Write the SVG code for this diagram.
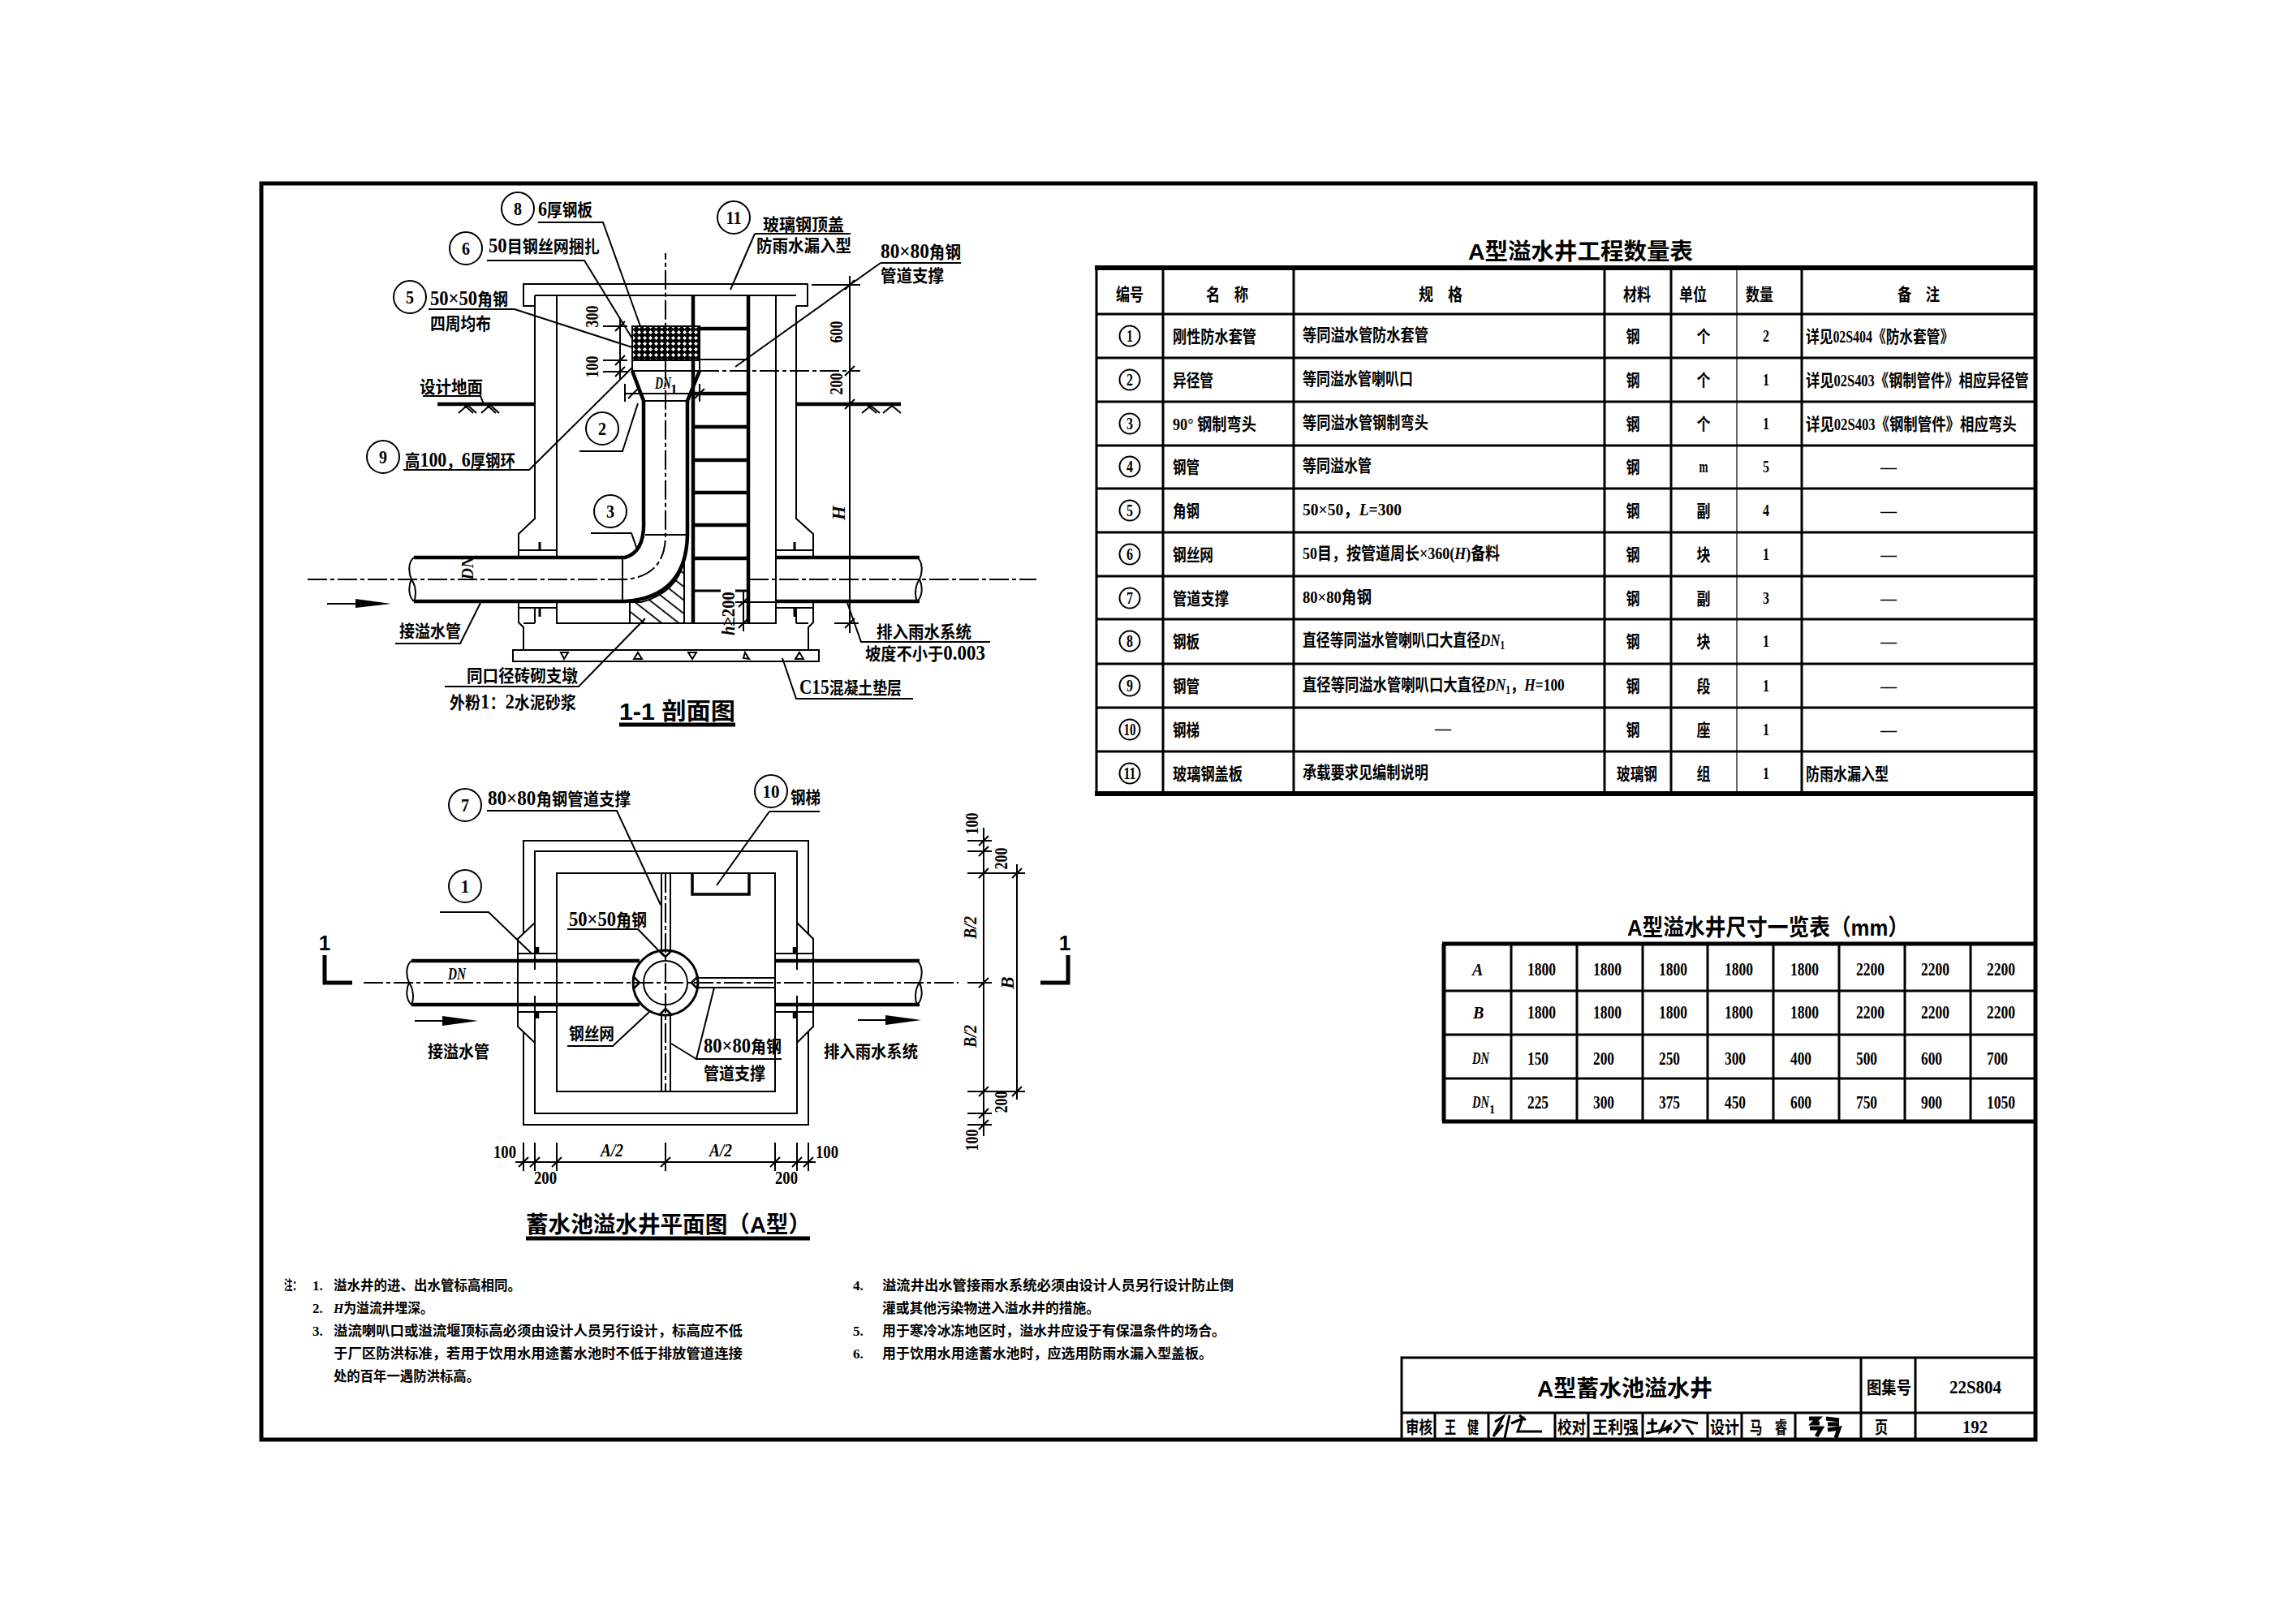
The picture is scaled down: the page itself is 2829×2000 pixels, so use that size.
<svg xmlns="http://www.w3.org/2000/svg" width="2829" height="2000" viewBox="0 0 2829 2000">
<style>
text{font-family:"Liberation Serif","Noto Sans CJK SC",sans-serif;font-weight:700;fill:#000}
.s{font-size:21px}.n{font-size:23px}.m{font-size:17px}.q{font-size:20px}.o{font-size:24px}
.g{font-size:25px}
.c{text-anchor:middle}
.i{font-style:italic}
.h{font-family:"Liberation Sans","Noto Sans CJK SC",sans-serif}
.l{fill:none;stroke:#000;stroke-width:2}
.t{fill:none;stroke:#000;stroke-width:4.5}
.f{fill:none;stroke:#000;stroke-width:1.2}
.d{fill:none;stroke:#000;stroke-width:2;stroke-dasharray:24 4 5 4}
</style>
<defs>
<pattern id="mesh" width="7" height="7" patternUnits="userSpaceOnUse">
<rect width="7" height="7" fill="#000"/>
<path d="M3.5,1 L6,3.5 L3.5,6 L1,3.5Z" fill="#fff"/>
</pattern>
<pattern id="hatch" width="13" height="13" patternUnits="userSpaceOnUse" patternTransform="rotate(-52)">
<rect x="0" y="0" width="1.8" height="13" fill="#000"/>
</pattern>
</defs>
<rect width="2829" height="2000" fill="#fff"/>
<rect id="frame" x="322" y="226" width="2186" height="1548" fill="none" stroke="#000" stroke-width="5"/>

<g id="section">
<path class="l" d="M659,377H645V350H995V377H981M659,364H981"/>
<path class="l" d="M659,364V639L639,658V687M639,741V767L645,773V801M686,364V687M686,741V768H956V364M981,377V639L1002,658V687M1002,741V767L996,773V801M639,678H686M956,678H1002M639,749H686M956,749H1002M659,749V768M645,768H659M981,749V768M981,768H996"/>
<path class="l" d="M632,801H1009V815H632Z"/>
<path class="t" d="M854,364V768M922,364V768"/>
<path class="t" d="M854,405H922M854,485H922M854,526H922M854,567H922M854,607H922M854,647H922M854,688H922"/>
<path class="l" d="M854,443H922M843,690V768"/>
<path class="t" style="stroke-width:3" d="M854,728H888M906,728H922"/>
<path class="t" style="stroke-width:3" d="M665,668V678M665,749V760M979,668V678M979,749V760"/>
<rect x="779" y="402" width="83" height="42" fill="url(#mesh)"/>
<path class="l" d="M779,402H862V457H779ZM779,444H862"/>
<path class="t" d="M779,457L793,494V640Q795,680 770,687H510M862,457L847,494V660Q845,736 770,741H510M956,687H1133M956,741H1133"/>
<path class="l" d="M793,494H847M795,659H849M767,687V741"/>
<path d="M776,742H790Q835,730 843,690V768H776Z" fill="url(#hatch)" stroke="#000" stroke-width="2"/>
<path class="l" d="M510,687C503,692 503,705 507,714C503,722 503,735 510,741M507,714C513,722 513,735 510,741M1130,687C1137,692 1137,705 1133,714C1137,722 1137,735 1130,741M1133,714C1127,722 1127,735 1130,741"/>
<path class="d" d="M379,714H770Q820,710 820,659V312M923,714H1277M862,457H1060"/>
<path class="t" d="M539,498H659M981,498H1110"/>
<path class="l" d="M565,509L576,499L587,509M572,499L583,509M593,509L604,499L615,509M600,499L611,509M1062,509L1073,500L1084,509M1069,500L1080,509M1088,509L1099,500L1110,509"/>
<path class="l" d="M691,804H700L695,812ZM786,804L791,812H781ZM848,804H858L853,812ZM918,804L923,812L916,811ZM985,804L990,812H980Z"/>
<path d="M403,743H438V738L482,744L438,749V745H403Z"/>
</g>

<g id="section-dims">
<path class="l" d="M764,392V467M743,402H773M743,444H773M743,458H773M758,408L770,396M758,450L770,438M758,464L770,452"/>
<path class="l" d="M771,485H880M770,473V495M862,473V495M774,491L786,479M856,491L868,479"/>
<path class="l" d="M1047,340V780M1000,351H1060M1041,357L1053,345M1041,463L1053,451M1041,504L1053,492M1028,768H1058M1041,774L1053,762"/>
<path class="l" d="M916,728V778M906,742H956M910,748L922,736M910,774L922,762M906,768H925"/>
<text class="n c" transform="translate(737,390) rotate(-90) scale(.78,1)">300</text>
<text class="n c" transform="translate(737,452) rotate(-90) scale(.78,1)">100</text>
<text class="n c" transform="translate(1038,409) rotate(-90) scale(.78,1)">600</text>
<text class="n c" transform="translate(1038,473) rotate(-90) scale(.78,1)">200</text>
<text class="n c i" transform="translate(1041,632) rotate(-90)">H</text>
<text class="n" transform="translate(905,783) rotate(-90) scale(.9,1)"><tspan class="i">h</tspan>≥200</text>
<text class="s i" x="807" y="479" textLength="20" lengthAdjust="spacingAndGlyphs">DN</text>
<text class="m" x="826" y="485">1</text>
<text class="q c i" transform="translate(583,700) rotate(-90)">DN</text>
</g>

<g id="section-labels">
<path class="l" d="M663,274H743L789,402M600,321H720L779,417M528,381H634L779,428M497,579H652L779,453M714,556H767L786,497M728,657H778L785,677M930,288H1048M930,288L900,357M1085,324H1184M1085,324L906,452M521,488H592L596,498M487,793H567L592,743M548,846H713L795,762M1220,791H1061L1044,743M1125,861H981L964,811"/>
<path class="t" style="stroke-width:5" d="M763,893H906"/>
<g id="c8"><circle class="l" cx="638" cy="257" r="20"/><text class="o c" x="638" y="265" textLength="10" lengthAdjust="spacingAndGlyphs">8</text></g>
<text class="s" transform="translate(663,266) scale(.887,1)"><tspan class="g">6</tspan>厚钢板</text>
<g id="c6"><circle class="l" cx="574" cy="306" r="20"/><text class="o c" x="574" y="314" textLength="10" lengthAdjust="spacingAndGlyphs">6</text></g>
<text class="s" transform="translate(602,311) scale(.907,1)"><tspan class="g">50</tspan>目钢丝网捆扎</text>
<g id="c5"><circle class="l" cx="505" cy="366" r="20"/><text class="o c" x="505" y="374" textLength="10" lengthAdjust="spacingAndGlyphs">5</text></g>
<text class="s" transform="translate(530,376) scale(.903,1)"><tspan class="g">50×50</tspan>角钢</text>
<text class="s" x="530" y="406" textLength="75" lengthAdjust="spacingAndGlyphs">四周均布</text>
<text class="s" x="517" y="484" textLength="78" lengthAdjust="spacingAndGlyphs">设计地面</text>
<g id="c9"><circle class="l" cx="472" cy="563" r="20"/><text class="o c" x="472" y="571" textLength="10" lengthAdjust="spacingAndGlyphs">9</text></g>
<text class="s" transform="translate(499,575) scale(.877,1)">高<tspan class="g">100</tspan>&#xFF0C;<tspan class="g">6</tspan>厚钢环</text>
<g id="c2"><circle class="l" cx="742" cy="528" r="20"/><text class="o c" x="742" y="536" textLength="10" lengthAdjust="spacingAndGlyphs">2</text></g>
<g id="c3"><circle class="l" cx="752" cy="630" r="20"/><text class="o c" x="752" y="638" textLength="10" lengthAdjust="spacingAndGlyphs">3</text></g>
<g id="c11"><circle class="l" cx="904" cy="268" r="20"/><text class="o c" x="904" y="276" textLength="19" lengthAdjust="spacingAndGlyphs">11</text></g>
<text class="s" x="940" y="284" textLength="100" lengthAdjust="spacingAndGlyphs">玻璃钢顶盖</text>
<text class="s" x="932" y="310" textLength="117" lengthAdjust="spacingAndGlyphs">防雨水漏入型</text>
<text class="s" transform="translate(1085,318) scale(.932,1)"><tspan class="g">80×80</tspan>角钢</text>
<text class="s" x="1085" y="347" textLength="78" lengthAdjust="spacingAndGlyphs">管道支撑</text>
<text class="s" x="492" y="785" textLength="76" lengthAdjust="spacingAndGlyphs">接溢水管</text>
<text class="s" x="575" y="840" textLength="137" lengthAdjust="spacingAndGlyphs">同口径砖砌支墩</text>
<text class="s" transform="translate(554,873) scale(.907,1)">外粉<tspan class="g">1</tspan>&#xFF1A;<tspan class="g">2</tspan>水泥砂浆</text>
<text class="s" x="1080" y="786" textLength="117" lengthAdjust="spacingAndGlyphs">排入雨水系统</text>
<text class="s" transform="translate(1066,813) scale(.918,1)">坡度不小于<tspan class="g">0.003</tspan></text>
<text class="s" transform="translate(985,855) scale(.851,1)"><tspan class="g">C15</tspan>混凝土垫层</text>
<text class="h" x="763" y="887" font-size="29" textLength="143" lengthAdjust="spacingAndGlyphs">1-1 剖面图</text>
</g>

<g id="plan">
<path class="l" d="M645,1150V1036H996V1150M645,1272V1386H996V1272M659,1195V1049H982V1195M659,1227V1372H982V1227M686,1076H955V1345H686Z"/>
<path class="l" d="M659,1137L638,1157V1265L659,1285M982,1137L1002,1157V1265L982,1285"/>
<path class="l" d="M638,1175H686M638,1247H686M955,1175H1002M955,1247H1002"/>
<path class="t" d="M507,1184H788M507,1238H788M955,1184H1133M955,1238H1133"/>
<path class="l" d="M507,1184C500,1189 500,1202 504,1211C500,1219 500,1232 507,1238M504,1211C510,1219 510,1232 507,1238M1130,1184C1137,1189 1137,1202 1133,1211C1137,1219 1137,1232 1130,1238M1133,1211C1127,1219 1127,1232 1130,1238"/>
<path class="t" d="M662,1167V1175M662,1247V1255M979,1167V1175M979,1247V1255"/>
<path class="t" style="stroke-width:3.5" d="M853,1076V1102H923V1076"/>
<path class="l" d="M815,1076V1171M826,1076V1171M815,1251V1345M826,1251V1345M860,1205H955M860,1217H955"/>
<circle cx="820" cy="1211" r="40" fill="#fff" stroke="#000" stroke-width="3"/>
<circle class="l" cx="820" cy="1211" r="27"/>
<path class="t" style="stroke-width:2.5" d="M812,1171L820,1179L828,1171M812,1251L820,1243L828,1251M780,1203L788,1211L780,1219M860,1203L852,1211L860,1219"/>
<path class="d" d="M448,1211H1181M820,1076V1345"/>
<path d="M511,1257H545V1252L589,1258L545,1264V1259H511ZM1057,1256H1091V1251L1135,1257L1091,1263V1258H1057Z"/>
<path class="t" style="stroke-width:5" d="M400,1177V1211H434M1316,1177V1211H1282M648,1526H998"/>
<text class="s i" x="552" y="1207" textLength="22" lengthAdjust="spacingAndGlyphs">DN</text>
</g>

<g id="plan-dims">
<path class="l" d="M1212,1020V1400M1192,1036H1222M1192,1049H1222M1192,1076H1263M1192,1211H1222M1192,1345H1263M1192,1372H1222M1192,1386H1222M1253,1065V1355M1206,1042L1218,1030M1206,1055L1218,1043M1206,1082L1218,1070M1206,1217L1218,1205M1206,1351L1218,1339M1206,1378L1218,1366M1206,1392L1218,1380M1247,1082L1259,1070M1247,1351L1259,1339"/>
<path class="l" d="M635,1432H1005M645,1408V1443M659,1408V1443M686,1408V1443M820,1408V1443M955,1408V1443M982,1408V1443M996,1408V1443M639,1438L651,1426M653,1438L665,1426M680,1438L692,1426M814,1438L826,1426M949,1438L961,1426M976,1438L988,1426M990,1438L1002,1426"/>
<text class="n c" transform="translate(1205,1015) rotate(-90) scale(.78,1)">100</text>
<text class="n c" transform="translate(1241,1058) rotate(-90) scale(.78,1)">200</text>
<text class="n c i" transform="translate(1203,1143) rotate(-90) scale(.85,1)">B/2</text>
<text class="n c i" transform="translate(1249,1211) rotate(-90)">B</text>
<text class="n c i" transform="translate(1203,1277) rotate(-90) scale(.85,1)">B/2</text>
<text class="n c" transform="translate(1241,1358) rotate(-90) scale(.78,1)">200</text>
<text class="n c" transform="translate(1205,1405) rotate(-90) scale(.78,1)">100</text>
<text class="n" x="608" y="1427" textLength="28" lengthAdjust="spacingAndGlyphs">100</text>
<text class="n" x="1005" y="1427" textLength="28" lengthAdjust="spacingAndGlyphs">100</text>
<text class="n" x="658" y="1459" textLength="28" lengthAdjust="spacingAndGlyphs">200</text>
<text class="n" x="955" y="1459" textLength="28" lengthAdjust="spacingAndGlyphs">200</text>
<text class="n i c" x="754" y="1425" textLength="28" lengthAdjust="spacingAndGlyphs">A/2</text>
<text class="n i c" x="888" y="1425" textLength="28" lengthAdjust="spacingAndGlyphs">A/2</text>
<text class="h c" x="400" y="1171" font-size="26">1</text>
<text class="h c" x="1312" y="1171" font-size="26">1</text>
</g>

<g id="plan-labels">
<path class="l" d="M600,999H760L814,1115M948,1000H1010M948,1000L883,1091M542,1124H602L655,1175M699,1145H786L818,1178M699,1289H755L800,1247M963,1305H858L880,1217M858,1305L827,1286"/>
<g id="c7"><circle class="l" cx="573" cy="992" r="20"/><text class="o c" x="573" y="1000" textLength="10" lengthAdjust="spacingAndGlyphs">7</text></g>
<text class="s" transform="translate(601,992) scale(.925,1)"><tspan class="g">80×80</tspan>角钢管道支撑</text>
<g id="c10"><circle class="l" cx="950" cy="975" r="20"/><text class="o c" x="950" y="983" textLength="21" lengthAdjust="spacingAndGlyphs">10</text></g>
<text class="s" x="974" y="990" textLength="37" lengthAdjust="spacingAndGlyphs">钢梯</text>
<g id="c1"><circle class="l" cx="573" cy="1092" r="20"/><text class="o c" x="573" y="1100" textLength="10" lengthAdjust="spacingAndGlyphs">1</text></g>
<text class="s" transform="translate(701,1141) scale(.903,1)"><tspan class="g">50×50</tspan>角钢</text>
<text class="s" x="701" y="1281" textLength="56" lengthAdjust="spacingAndGlyphs">钢丝网</text>
<text class="s" transform="translate(867,1297) scale(.903,1)"><tspan class="g">80×80</tspan>角钢</text>
<text class="s" x="867" y="1330" textLength="76" lengthAdjust="spacingAndGlyphs">管道支撑</text>
<text class="s" x="527" y="1303" textLength="76" lengthAdjust="spacingAndGlyphs">接溢水管</text>
<text class="s" x="1015" y="1303" textLength="116" lengthAdjust="spacingAndGlyphs">排入雨水系统</text>
<text class="h" x="648" y="1519" font-size="28" textLength="351" lengthAdjust="spacingAndGlyphs">蓄水池溢水井平面图&#xFF08;A型&#xFF09;</text>
</g>

<g id="quantity-table">
<text class="h" x="1809" y="320" font-size="28" textLength="277" lengthAdjust="spacingAndGlyphs">A型溢水井工程数量表</text>
<path fill="none" stroke="#000" stroke-width="6" d="M1349,330H2508M1349,978H2508"/>
<path fill="none" stroke="#000" stroke-width="3" d="M1351,330V978M1433,330V978M1594,330V978M1977,330V978M2059,330V978M2220,330V978M1351,387H2508M1351,441H2508M1351,495H2508M1351,549H2508M1351,602H2508M1351,656H2508M1351,710H2508M1351,763H2508M1351,818H2508M1351,872H2508M1351,926H2508"/>
<path class="f" d="M2140,330V978"/>
<text class="s c" x="1392" y="370" textLength="34" lengthAdjust="spacingAndGlyphs">编号</text>
<text class="s c" x="1512" y="370" textLength="52" lengthAdjust="spacingAndGlyphs">名&#x3000;称</text>
<text class="s c" x="1775" y="370" textLength="54" lengthAdjust="spacingAndGlyphs">规&#x3000;格</text>
<text class="s c" x="2017" y="370" textLength="34" lengthAdjust="spacingAndGlyphs">材料</text>
<text class="s c" x="2086" y="370" textLength="34" lengthAdjust="spacingAndGlyphs">单位</text>
<text class="s c" x="2168" y="370" textLength="34" lengthAdjust="spacingAndGlyphs">数量</text>
<text class="s c" x="2364" y="370" textLength="52" lengthAdjust="spacingAndGlyphs">备&#x3000;注</text>
<g id="r1"><circle class="l" cx="1392" cy="414" r="12.5"/><text class="q c" x="1392" y="421" textLength="8" lengthAdjust="spacingAndGlyphs">1</text>
<text class="s" x="1445" y="422" textLength="103" lengthAdjust="spacingAndGlyphs">刚性防水套管</text><text class="s" x="1605" y="420" textLength="155" lengthAdjust="spacingAndGlyphs">等同溢水管防水套管</text><text class="s c" x="2012" y="422" textLength="17" lengthAdjust="spacingAndGlyphs">钢</text><text class="s c" x="2099" y="422" textLength="17" lengthAdjust="spacingAndGlyphs">个</text><text class="q c" x="2176" y="421" textLength="8" lengthAdjust="spacingAndGlyphs">2</text><text class="s" transform="translate(2225,422) scale(.795,1)">详见<tspan class="q">02S404</tspan>《防水套管》</text></g>
<g id="r2"><circle class="l" cx="1392" cy="468" r="12.5"/><text class="q c" x="1392" y="475" textLength="8" lengthAdjust="spacingAndGlyphs">2</text>
<text class="s" x="1445" y="476" textLength="50" lengthAdjust="spacingAndGlyphs">异径管</text><text class="s" x="1605" y="474" textLength="136" lengthAdjust="spacingAndGlyphs">等同溢水管喇叭口</text><text class="s c" x="2012" y="476" textLength="17" lengthAdjust="spacingAndGlyphs">钢</text><text class="s c" x="2099" y="476" textLength="17" lengthAdjust="spacingAndGlyphs">个</text><text class="q c" x="2176" y="475" textLength="8" lengthAdjust="spacingAndGlyphs">1</text><text class="s" transform="translate(2225,476) scale(.823,1)">详见<tspan class="q">02S403</tspan>《钢制管件》相应异径管</text></g>
<g id="r3"><circle class="l" cx="1392" cy="522" r="12.5"/><text class="q c" x="1392" y="529" textLength="8" lengthAdjust="spacingAndGlyphs">3</text>
<text class="s" x="1445" y="530" textLength="103" lengthAdjust="spacingAndGlyphs">90° 钢制弯头</text><text class="s" x="1605" y="528" textLength="155" lengthAdjust="spacingAndGlyphs">等同溢水管钢制弯头</text><text class="s c" x="2012" y="530" textLength="17" lengthAdjust="spacingAndGlyphs">钢</text><text class="s c" x="2099" y="530" textLength="17" lengthAdjust="spacingAndGlyphs">个</text><text class="q c" x="2176" y="529" textLength="8" lengthAdjust="spacingAndGlyphs">1</text><text class="s" transform="translate(2225,530) scale(.83,1)">详见<tspan class="q">02S403</tspan>《钢制管件》相应弯头</text></g>
<g id="r4"><circle class="l" cx="1392" cy="575" r="12.5"/><text class="q c" x="1392" y="582" textLength="8" lengthAdjust="spacingAndGlyphs">4</text>
<text class="s" x="1445" y="583" textLength="33" lengthAdjust="spacingAndGlyphs">钢管</text><text class="s" x="1605" y="581" textLength="85" lengthAdjust="spacingAndGlyphs">等同溢水管</text><text class="s c" x="2012" y="583" textLength="17" lengthAdjust="spacingAndGlyphs">钢</text><text class="q c" x="2099" y="582" textLength="11" lengthAdjust="spacingAndGlyphs">m</text><text class="q c" x="2176" y="582" textLength="8" lengthAdjust="spacingAndGlyphs">5</text><text class="s c" x="2327" y="583" textLength="20" lengthAdjust="spacingAndGlyphs">—</text></g>
<g id="r5"><circle class="l" cx="1392" cy="629" r="12.5"/><text class="q c" x="1392" y="636" textLength="8" lengthAdjust="spacingAndGlyphs">5</text>
<text class="s" x="1445" y="637" textLength="33" lengthAdjust="spacingAndGlyphs">角钢</text><text class="s" transform="translate(1605,635) scale(.93,1)">50×50&#xFF0C;<tspan class="i">L</tspan>=300</text><text class="s c" x="2012" y="637" textLength="17" lengthAdjust="spacingAndGlyphs">钢</text><text class="s c" x="2099" y="637" textLength="17" lengthAdjust="spacingAndGlyphs">副</text><text class="q c" x="2176" y="636" textLength="8" lengthAdjust="spacingAndGlyphs">4</text><text class="s c" x="2327" y="637" textLength="20" lengthAdjust="spacingAndGlyphs">—</text></g>
<g id="r6"><circle class="l" cx="1392" cy="683" r="12.5"/><text class="q c" x="1392" y="690" textLength="8" lengthAdjust="spacingAndGlyphs">6</text>
<text class="s" x="1445" y="691" textLength="50" lengthAdjust="spacingAndGlyphs">钢丝网</text><text class="s" transform="translate(1605,689) scale(.857,1)">50目&#xFF0C;按管道周长×360(<tspan class="i">H</tspan>)备料</text><text class="s c" x="2012" y="691" textLength="17" lengthAdjust="spacingAndGlyphs">钢</text><text class="s c" x="2099" y="691" textLength="17" lengthAdjust="spacingAndGlyphs">块</text><text class="q c" x="2176" y="690" textLength="8" lengthAdjust="spacingAndGlyphs">1</text><text class="s c" x="2327" y="691" textLength="20" lengthAdjust="spacingAndGlyphs">—</text></g>
<g id="r7"><circle class="l" cx="1392" cy="737" r="12.5"/><text class="q c" x="1392" y="744" textLength="8" lengthAdjust="spacingAndGlyphs">7</text>
<text class="s" x="1445" y="745" textLength="69" lengthAdjust="spacingAndGlyphs">管道支撑</text><text class="s" x="1605" y="743" textLength="85" lengthAdjust="spacingAndGlyphs">80×80角钢</text><text class="s c" x="2012" y="745" textLength="17" lengthAdjust="spacingAndGlyphs">钢</text><text class="s c" x="2099" y="745" textLength="17" lengthAdjust="spacingAndGlyphs">副</text><text class="q c" x="2176" y="744" textLength="8" lengthAdjust="spacingAndGlyphs">3</text><text class="s c" x="2327" y="745" textLength="20" lengthAdjust="spacingAndGlyphs">—</text></g>
<g id="r8"><circle class="l" cx="1392" cy="790" r="12.5"/><text class="q c" x="1392" y="797" textLength="8" lengthAdjust="spacingAndGlyphs">8</text>
<text class="s" x="1445" y="798" textLength="33" lengthAdjust="spacingAndGlyphs">钢板</text><text class="s" transform="translate(1605,796) scale(.803,1)">直径等同溢水管喇叭口大直径<tspan class="i">DN</tspan><tspan font-size="14" dy="4">1</tspan></text><text class="s c" x="2012" y="798" textLength="17" lengthAdjust="spacingAndGlyphs">钢</text><text class="s c" x="2099" y="798" textLength="17" lengthAdjust="spacingAndGlyphs">块</text><text class="q c" x="2176" y="797" textLength="8" lengthAdjust="spacingAndGlyphs">1</text><text class="s c" x="2327" y="798" textLength="20" lengthAdjust="spacingAndGlyphs">—</text></g>
<g id="r9"><circle class="l" cx="1392" cy="845" r="12.5"/><text class="q c" x="1392" y="852" textLength="8" lengthAdjust="spacingAndGlyphs">9</text>
<text class="s" x="1445" y="853" textLength="33" lengthAdjust="spacingAndGlyphs">钢管</text><text class="s" transform="translate(1605,851) scale(.825,1)">直径等同溢水管喇叭口大直径<tspan class="i">DN</tspan><tspan font-size="14" dy="4">1</tspan><tspan dy="-4">&#xFF0C;</tspan><tspan class="i">H</tspan>=100</text><text class="s c" x="2012" y="853" textLength="17" lengthAdjust="spacingAndGlyphs">钢</text><text class="s c" x="2099" y="853" textLength="17" lengthAdjust="spacingAndGlyphs">段</text><text class="q c" x="2176" y="852" textLength="8" lengthAdjust="spacingAndGlyphs">1</text><text class="s c" x="2327" y="853" textLength="20" lengthAdjust="spacingAndGlyphs">—</text></g>
<g id="r10"><circle class="l" cx="1392" cy="899" r="12.5"/><text class="q c" x="1392" y="906" textLength="15" lengthAdjust="spacingAndGlyphs">10</text>
<text class="s" x="1445" y="907" textLength="33" lengthAdjust="spacingAndGlyphs">钢梯</text><text class="s c" x="1778" y="905" textLength="20" lengthAdjust="spacingAndGlyphs">—</text><text class="s c" x="2012" y="907" textLength="17" lengthAdjust="spacingAndGlyphs">钢</text><text class="s c" x="2099" y="907" textLength="17" lengthAdjust="spacingAndGlyphs">座</text><text class="q c" x="2176" y="906" textLength="8" lengthAdjust="spacingAndGlyphs">1</text><text class="s c" x="2327" y="907" textLength="20" lengthAdjust="spacingAndGlyphs">—</text></g>
<g id="r11"><circle class="l" cx="1392" cy="953" r="12.5"/><text class="q c" x="1392" y="960" textLength="15" lengthAdjust="spacingAndGlyphs">11</text>
<text class="s" x="1445" y="961" textLength="86" lengthAdjust="spacingAndGlyphs">玻璃钢盖板</text><text class="s" x="1605" y="959" textLength="155" lengthAdjust="spacingAndGlyphs">承载要求见编制说明</text><text class="s c" x="2017" y="961" textLength="50" lengthAdjust="spacingAndGlyphs">玻璃钢</text><text class="s c" x="2099" y="961" textLength="17" lengthAdjust="spacingAndGlyphs">组</text><text class="q c" x="2176" y="960" textLength="8" lengthAdjust="spacingAndGlyphs">1</text><text class="s" x="2225" y="961" textLength="102" lengthAdjust="spacingAndGlyphs">防雨水漏入型</text></g>
</g>

<g id="size-table">
<text class="h" x="2005" y="1153" font-size="28" textLength="347" lengthAdjust="spacingAndGlyphs">A型溢水井尺寸一览表&#xFF08;mm&#xFF09;</text>
<path fill="none" stroke="#000" stroke-width="5" d="M1777,1163H2508M1777,1382H2508M1779,1163V1382"/>
<path fill="none" stroke="#000" stroke-width="3" d="M1862,1163V1382M1943,1163V1382M2024,1163V1382M2104,1163V1382M2185,1163V1382M2266,1163V1382M2347,1163V1382M2428,1163V1382M1779,1221H2508M1779,1275H2508M1779,1329H2508"/>
<text class="q i" x="1814" y="1202">A</text>
<text class="q i" x="1815" y="1255">B</text>
<text class="q i" x="1814" y="1311" textLength="21" lengthAdjust="spacingAndGlyphs">DN</text>
<text class="q i" x="1814" y="1365" textLength="21" lengthAdjust="spacingAndGlyphs">DN</text><text x="1835" y="1372" font-size="14">1</text>
<text class="n" x="1882" y="1202" textLength="35" lengthAdjust="spacingAndGlyphs">1800</text><text class="n" x="1963" y="1202" textLength="35" lengthAdjust="spacingAndGlyphs">1800</text><text class="n" x="2044" y="1202" textLength="35" lengthAdjust="spacingAndGlyphs">1800</text><text class="n" x="2125" y="1202" textLength="35" lengthAdjust="spacingAndGlyphs">1800</text><text class="n" x="2206" y="1202" textLength="35" lengthAdjust="spacingAndGlyphs">1800</text><text class="n" x="2287" y="1202" textLength="35" lengthAdjust="spacingAndGlyphs">2200</text><text class="n" x="2367" y="1202" textLength="35" lengthAdjust="spacingAndGlyphs">2200</text><text class="n" x="2448" y="1202" textLength="35" lengthAdjust="spacingAndGlyphs">2200</text>
<text class="n" x="1882" y="1255" textLength="35" lengthAdjust="spacingAndGlyphs">1800</text><text class="n" x="1963" y="1255" textLength="35" lengthAdjust="spacingAndGlyphs">1800</text><text class="n" x="2044" y="1255" textLength="35" lengthAdjust="spacingAndGlyphs">1800</text><text class="n" x="2125" y="1255" textLength="35" lengthAdjust="spacingAndGlyphs">1800</text><text class="n" x="2206" y="1255" textLength="35" lengthAdjust="spacingAndGlyphs">1800</text><text class="n" x="2287" y="1255" textLength="35" lengthAdjust="spacingAndGlyphs">2200</text><text class="n" x="2367" y="1255" textLength="35" lengthAdjust="spacingAndGlyphs">2200</text><text class="n" x="2448" y="1255" textLength="35" lengthAdjust="spacingAndGlyphs">2200</text>
<text class="n" x="1882" y="1312" textLength="26" lengthAdjust="spacingAndGlyphs">150</text><text class="n" x="1963" y="1312" textLength="26" lengthAdjust="spacingAndGlyphs">200</text><text class="n" x="2044" y="1312" textLength="26" lengthAdjust="spacingAndGlyphs">250</text><text class="n" x="2125" y="1312" textLength="26" lengthAdjust="spacingAndGlyphs">300</text><text class="n" x="2206" y="1312" textLength="26" lengthAdjust="spacingAndGlyphs">400</text><text class="n" x="2287" y="1312" textLength="26" lengthAdjust="spacingAndGlyphs">500</text><text class="n" x="2367" y="1312" textLength="26" lengthAdjust="spacingAndGlyphs">600</text><text class="n" x="2448" y="1312" textLength="26" lengthAdjust="spacingAndGlyphs">700</text>
<text class="n" x="1882" y="1366" textLength="26" lengthAdjust="spacingAndGlyphs">225</text><text class="n" x="1963" y="1366" textLength="26" lengthAdjust="spacingAndGlyphs">300</text><text class="n" x="2044" y="1366" textLength="26" lengthAdjust="spacingAndGlyphs">375</text><text class="n" x="2125" y="1366" textLength="26" lengthAdjust="spacingAndGlyphs">450</text><text class="n" x="2206" y="1366" textLength="26" lengthAdjust="spacingAndGlyphs">600</text><text class="n" x="2287" y="1366" textLength="26" lengthAdjust="spacingAndGlyphs">750</text><text class="n" x="2367" y="1366" textLength="26" lengthAdjust="spacingAndGlyphs">900</text><text class="n" x="2448" y="1366" textLength="35" lengthAdjust="spacingAndGlyphs">1050</text>
</g>

<g id="notes">
<text class="m" x="350" y="1590" textLength="21" lengthAdjust="spacingAndGlyphs">注&#xFF1A;</text>
<text class="m" x="385" y="1590">1.</text><text class="m" x="411" y="1590" textLength="231" lengthAdjust="spacingAndGlyphs">溢水井的进、出水管标高相同。</text>
<text class="m" x="385" y="1618">2.</text><text class="m" transform="translate(411,1618) scale(.93,1)"><tspan class="i">H</tspan>为溢流井埋深。</text>
<text class="m" x="385" y="1646">3.</text><text class="m" x="411" y="1646" textLength="504" lengthAdjust="spacingAndGlyphs">溢流喇叭口或溢流堰顶标高必须由设计人员另行设计&#xFF0C;标高应不低</text>
<text class="m" x="411" y="1674" textLength="504" lengthAdjust="spacingAndGlyphs">于厂区防洪标准&#xFF0C;若用于饮用水用途蓄水池时不低于排放管道连接</text>
<text class="m" x="411" y="1702" textLength="180" lengthAdjust="spacingAndGlyphs">处的百年一遇防洪标高。</text>
<text class="m" x="1051" y="1590">4.</text><text class="m" x="1087" y="1590" textLength="433" lengthAdjust="spacingAndGlyphs">溢流井出水管接雨水系统必须由设计人员另行设计防止倒</text>
<text class="m" x="1087" y="1618" textLength="268" lengthAdjust="spacingAndGlyphs">灌或其他污染物进入溢水井的措施。</text>
<text class="m" x="1051" y="1646">5.</text><text class="m" x="1087" y="1646" textLength="423" lengthAdjust="spacingAndGlyphs">用于寒冷冰冻地区时&#xFF0C;溢水井应设于有保温条件的场合。</text>
<text class="m" x="1051" y="1674">6.</text><text class="m" x="1087" y="1674" textLength="407" lengthAdjust="spacingAndGlyphs">用于饮用水用途蓄水池时&#xFF0C;应选用防雨水漏入型盖板。</text>
</g>

<g id="title-block">
<path fill="none" stroke="#000" stroke-width="3" d="M1727,1774V1673H2508M1727,1741H2508M2293,1673V1774M2360,1673V1774M1768,1741V1774M1834,1741V1774M1916,1741V1774M1957,1741V1774M2024,1741V1774M2104,1741V1774M2146,1741V1774M2212,1741V1774"/>
<text class="h" x="1894" y="1721" font-size="28" textLength="216" lengthAdjust="spacingAndGlyphs">A型蓄水池溢水井</text>
<text class="s" x="2300" y="1717" textLength="55" lengthAdjust="spacingAndGlyphs">图集号</text>
<text class="n" x="2402" y="1717" textLength="64" lengthAdjust="spacingAndGlyphs">22S804</text>
<text class="s" x="1732" y="1766" textLength="33" lengthAdjust="spacingAndGlyphs">审核</text>
<text class="s" x="1780" y="1766" textLength="42" lengthAdjust="spacingAndGlyphs">王&#x3000;健</text>
<text class="s" x="1919" y="1766" textLength="35" lengthAdjust="spacingAndGlyphs">校对</text>
<text class="s" x="1962" y="1766" textLength="57" lengthAdjust="spacingAndGlyphs">王利强</text>
<text class="s" x="2107" y="1766" textLength="36" lengthAdjust="spacingAndGlyphs">设计</text>
<text class="s" x="2156" y="1766" textLength="46" lengthAdjust="spacingAndGlyphs">马&#x3000;睿</text>
<text class="s c" x="2318" y="1766" textLength="16" lengthAdjust="spacingAndGlyphs">页</text>
<text class="n" x="2418" y="1766" textLength="31" lengthAdjust="spacingAndGlyphs">192</text>
<path class="t" style="stroke-width:3" d="M1842,1752L1852,1746L1840,1770L1852,1756M1860,1744L1854,1772M1862,1754L1876,1748L1870,1764H1900M1872,1744L1880,1750"/>
<path class="t" style="stroke-width:3" d="M2030,1754H2042M2036,1748V1764M2028,1766L2060,1760M2052,1750L2046,1764L2058,1756L2054,1766M2064,1750L2070,1756L2062,1766M2072,1750L2092,1754M2078,1756L2086,1768"/>
<path class="t" style="stroke-width:5" d="M2229,1748H2240L2234,1754H2242M2230,1760H2244L2238,1770M2250,1748L2266,1750M2252,1755H2266M2252,1762L2266,1760L2262,1772"/>
</g>
</svg>
